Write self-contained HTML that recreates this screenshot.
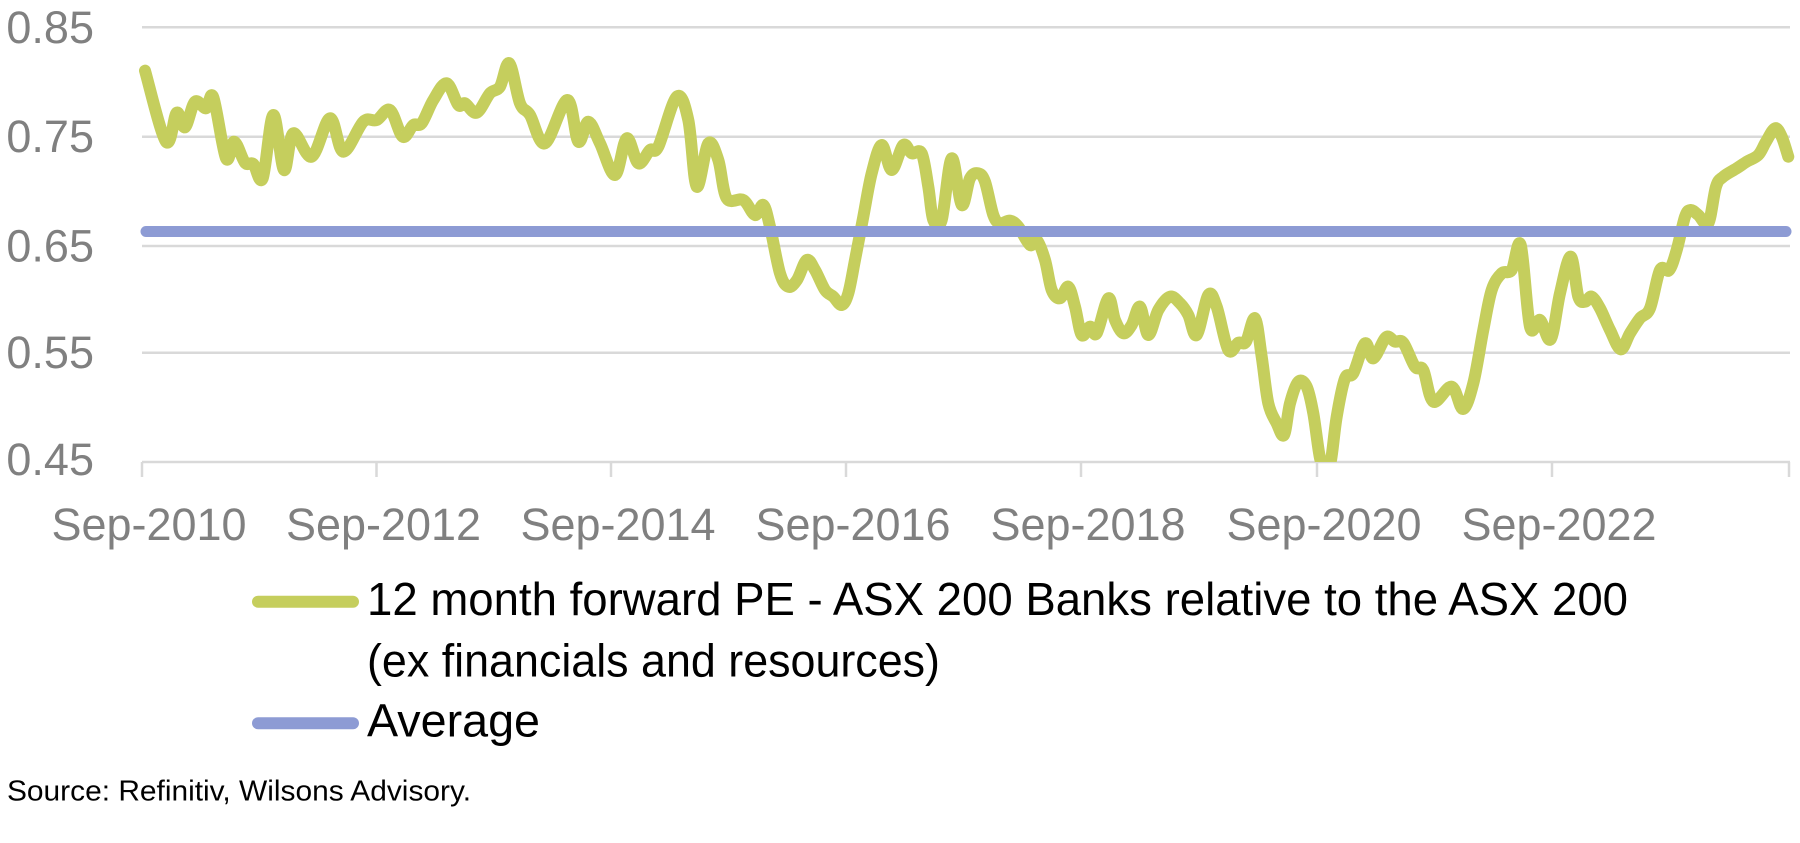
<!DOCTYPE html>
<html>
<head>
<meta charset="utf-8">
<style>
  html, body { margin: 0; padding: 0; background: #ffffff; }
  body { width: 1800px; height: 843px; overflow: hidden; }
  svg { display: block; }
  text { font-family: "Liberation Sans", "DejaVu Sans", sans-serif; }
</style>
</head>
<body>
<svg width="1800" height="843" viewBox="0 0 1800 843" xmlns="http://www.w3.org/2000/svg">
  <defs>
    <clipPath id="plot">
      <rect x="0" y="0" width="1800" height="462"/>
    </clipPath>
  </defs>

  <!-- gridlines -->
  <g stroke="#d9d9d9" stroke-width="2.5" fill="none">
    <line x1="142" y1="27.3" x2="1790" y2="27.3"/>
    <line x1="142" y1="136.7" x2="1790" y2="136.7"/>
    <line x1="142" y1="246" x2="1790" y2="246"/>
    <line x1="142" y1="352.7" x2="1790" y2="352.7"/>
    <line x1="142" y1="462" x2="1790" y2="462"/>
    <line x1="142" y1="462" x2="142" y2="477"/>
    <line x1="376.5" y1="462" x2="376.5" y2="477"/>
    <line x1="611" y1="462" x2="611" y2="477"/>
    <line x1="846" y1="462" x2="846" y2="477"/>
    <line x1="1081" y1="462" x2="1081" y2="477"/>
    <line x1="1317" y1="462" x2="1317" y2="477"/>
    <line x1="1552" y1="462" x2="1552" y2="477"/>
    <line x1="1789" y1="462" x2="1789" y2="477"/>
  </g>

  <!-- y labels -->
  <g fill="#808080" font-size="45" text-anchor="end">
    <text x="94" y="43">0.85</text>
    <text x="94" y="152">0.75</text>
    <text x="94" y="261.5">0.65</text>
    <text x="94" y="368">0.55</text>
    <text x="94" y="475">0.45</text>
  </g>

  <!-- x labels -->
  <g fill="#808080" font-size="45" text-anchor="middle">
    <text x="149" y="540" textLength="195" lengthAdjust="spacingAndGlyphs">Sep-2010</text>
    <text x="383.5" y="540" textLength="195" lengthAdjust="spacingAndGlyphs">Sep-2012</text>
    <text x="618" y="540" textLength="195" lengthAdjust="spacingAndGlyphs">Sep-2014</text>
    <text x="853" y="540" textLength="195" lengthAdjust="spacingAndGlyphs">Sep-2016</text>
    <text x="1088" y="540" textLength="195" lengthAdjust="spacingAndGlyphs">Sep-2018</text>
    <text x="1324" y="540" textLength="195" lengthAdjust="spacingAndGlyphs">Sep-2020</text>
    <text x="1559" y="540" textLength="195" lengthAdjust="spacingAndGlyphs">Sep-2022</text>
  </g>

  <!-- series -->
  <g clip-path="url(#plot)" id="serieswrap">
    <polyline id="series" fill="none" stroke="#c5ce5d" stroke-width="12" stroke-linejoin="round" stroke-linecap="round"
      points="145,70.7 166,141.7 176.7,112.7 185,127.3 195,101.7 206,108.3 213.3,97.3 226,158.3 234.3,141.7 245,162.7 253.3,164 262.7,178.3 273.3,115 284,170 293.3,133.3 311.7,156.7 330,118.3 343.3,151.7 363.3,121.7 376.7,120 390,110 402.7,136.7 413.3,125 421.7,123.3 433.3,100 446.7,83.3 458.3,105 465,103.3 476.7,112.7 490,93.3 500,86.7 509.3,63.3 520,103.3 530,115 545,143.3 567.3,100 578.3,141.7 588.3,121.7 600,143.3 615,175 626.7,138.3 638.3,163.3 650,150 658.3,146.7 676.7,96.7 688.3,120 696.7,186.7 708.3,143.3 718.3,160 726.7,198.3 743.3,200 755,215 763.3,205 770,226.7 780,273.3 788.3,286.7 797,280 806.7,260 815,270 825,290 833.3,296.7 841.7,305 848.3,293.3 855,260 863.3,216.7 871.7,173.3 881.7,145 891.7,170 903.3,145 911.7,153.3 921.7,153.3 928.3,186.7 933.3,220 941.7,220 951.7,158.3 961.7,205 970,178.3 978.3,173.3 985,181.7 993.3,215 1000,223.3 1010,220.7 1018.3,226.7 1030,245 1036.7,240 1045,260 1051.7,290 1060,298.3 1068.3,286.7 1075,306.7 1081.7,335 1090,326.7 1096.7,333.3 1108.3,298.3 1115,320 1123.3,333.3 1131.7,325 1140,306.7 1148.3,335 1158.3,310 1170,296.7 1180,303.3 1188.3,315 1196.7,335 1208.3,295 1216.7,306.7 1228.3,350 1238.3,342.7 1246,341.7 1255,318.3 1261.7,356.7 1268.3,403.3 1276.7,423.3 1284,435 1290,403.3 1298.3,381.7 1306.7,386.7 1313.3,413.3 1320,458 1326,470 1331,460 1336.7,416.7 1345,378.3 1353.3,373.3 1365,343.3 1373.3,358.3 1386,337.3 1395,341.7 1403.3,342.7 1415,366.7 1423.3,370 1433.3,401.7 1451.7,386.7 1463,409 1473.3,383.3 1483.3,330 1491.7,290 1501.7,273.3 1511.7,270 1520.7,245 1530,326.7 1540,320 1550.7,339.3 1560,293.3 1570.7,256.7 1578.3,296.7 1585,301.7 1591.7,296.7 1600,308.3 1610,330 1620.7,349.3 1630,333.3 1640,318.3 1650,308.3 1660,270 1669.3,270 1676.7,250 1685,216.7 1690.7,210 1698.3,215 1708.3,223.3 1716,186.7 1723.3,176.7 1736.7,168.3 1746.7,161.7 1758.3,155 1766,141.7 1775,128.3 1781.7,136.7 1788.3,156.7"/>
  </g>

  <!-- average -->
  <line x1="146" y1="231.5" x2="1786" y2="231.5" stroke="#8d9bd4" stroke-width="11" stroke-linecap="round"/>

  <!-- legend -->
  <line x1="258" y1="601.7" x2="353" y2="601.7" stroke="#c5ce5d" stroke-width="12" stroke-linecap="round"/>
  <line x1="258" y1="723.3" x2="353" y2="723.3" stroke="#8d9bd4" stroke-width="12" stroke-linecap="round"/>
  <g fill="#000000" font-size="46">
    <text x="367" y="615" textLength="1261" lengthAdjust="spacingAndGlyphs">12 month forward PE - ASX 200 Banks relative to the ASX 200</text>
    <text x="367" y="676.7" textLength="573" lengthAdjust="spacingAndGlyphs">(ex financials and resources)</text>
    <text x="367" y="736.7" textLength="173" lengthAdjust="spacingAndGlyphs">Average</text>
  </g>

  <!-- source -->
  <text x="7" y="800.7" font-size="29" fill="#000000" textLength="464" lengthAdjust="spacingAndGlyphs">Source: Refinitiv, Wilsons Advisory.</text>
</svg>
<script>
(function(){
  try {
    var pl = document.getElementById('series');
    var raw = pl.getAttribute('points').trim().split(/\s+/).map(function(s){var a=s.split(',');return [parseFloat(a[0]),parseFloat(a[1])];});
    var n = raw.length;
    var d = 'M' + raw[0][0] + ',' + raw[0][1];
    for (var i = 0; i < n - 1; i++) {
      var p0 = raw[i > 0 ? i - 1 : i], p1 = raw[i], p2 = raw[i + 1], p3 = raw[i + 2 < n ? i + 2 : i + 1];
      var c1x = p1[0] + (p2[0] - p0[0]) / 6, c1y = p1[1] + (p2[1] - p0[1]) / 6;
      var c2x = p2[0] - (p3[0] - p1[0]) / 6, c2y = p2[1] - (p3[1] - p1[1]) / 6;
      d += ' C' + c1x.toFixed(2) + ',' + c1y.toFixed(2) + ' ' + c2x.toFixed(2) + ',' + c2y.toFixed(2) + ' ' + p2[0] + ',' + p2[1];
    }
    var ns = 'http://www.w3.org/2000/svg';
    var path = document.createElementNS(ns, 'path');
    path.setAttribute('d', d);
    path.setAttribute('fill', 'none');
    path.setAttribute('stroke', '#c5ce5d');
    path.setAttribute('stroke-width', '12');
    path.setAttribute('stroke-linejoin', 'round');
    path.setAttribute('stroke-linecap', 'round');
    pl.parentNode.replaceChild(path, pl);
  } catch (e) {}
})();
</script>
</body>
</html>
